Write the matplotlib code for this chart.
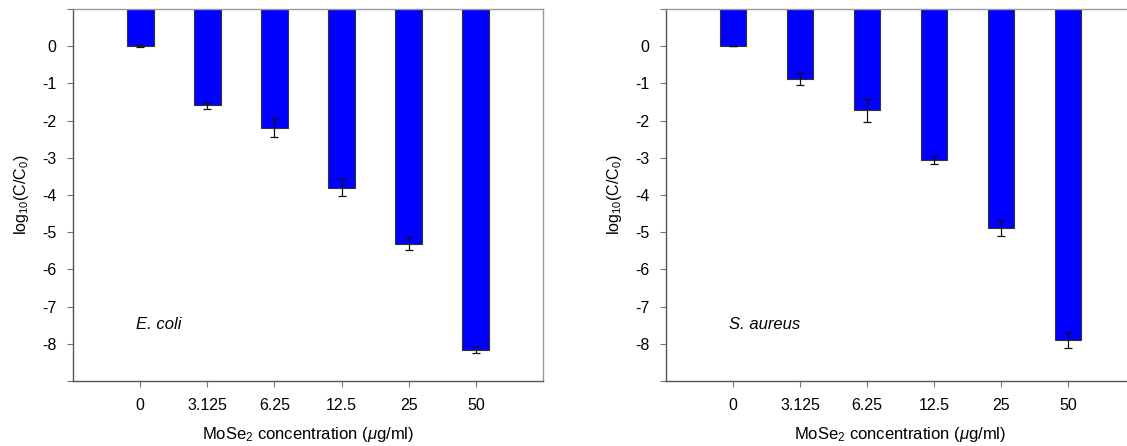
import numpy as np
import matplotlib as mpl
mpl.use("Agg")
import matplotlib.pyplot as plt

plt.rcParams["font.family"] = ["Liberation Sans", "DejaVu Sans"]
plt.rcParams["mathtext.fontset"] = "custom"
plt.rcParams["mathtext.rm"] = "Liberation Sans"
plt.rcParams["mathtext.it"] = "Liberation Sans:italic"

# data
conc_labels = ["0", "3.125", "6.25", "12.5", "25", "50"]
ecoli_vals = [0.0, -1.59, -2.19, -3.80, -5.31, -8.17]
ecoli_err = [0.02, 0.10, 0.25, 0.24, 0.18, 0.09]
saureus_vals = [0.0, -0.88, -1.72, -3.05, -4.88, -7.90]
saureus_err = [0.0, 0.15, 0.31, 0.11, 0.21, 0.21]
species = ["E. coli", "S. aureus"]

W, H = 1127, 446
fig = plt.figure(figsize=(W / 100, H / 100), dpi=100)

# axes boxes in pixels: left, top, right, bottom
# (the right panel runs past the edge of the image, as in the original)
boxes = [(73, 9, 543, 381), (666, 9, 1135, 381)]

for i, ((l, t, r, b), vals, errs, name) in enumerate(zip(
    boxes, [ecoli_vals, saureus_vals], [ecoli_err, saureus_err], species
)):
    ax = fig.add_axes([l / W, 1 - b / H, (r - l) / W, (b - t) / H])
    x = np.arange(len(conc_labels))
    top = 1.0
    vals = np.array(vals)
    # bars hang down from the top of the plot
    ax.bar(x, vals - top, bottom=top, width=0.4, color="#0000ff",
           edgecolor="#333333", linewidth=0.8, zorder=2)
    ax.errorbar(x, vals, yerr=errs, fmt="none", ecolor="#111111",
                elinewidth=0.9, capsize=3, capthick=0.9, zorder=3)

    ax.set_xlim(-1, 6)
    ax.set_ylim(-9, top)
    ax.set_xticks(x)
    ax.set_xticklabels(conc_labels)
    ax.set_yticks(np.arange(-9, 2))
    ax.set_yticklabels(["" if v in (-9, 1) else str(v) for v in range(-9, 2)])

    for side in ["left", "bottom"]:
        ax.spines[side].set_color("#555555")
        ax.spines[side].set_linewidth(1.0)
    for side in ["top", "right"]:
        ax.spines[side].set_color("#999999")
        ax.spines[side].set_linewidth(1.0)
    if i == 1:
        ax.spines["right"].set_visible(False)
    ax.tick_params(direction="out", length=4, width=0.8, color="#777777",
                   labelsize=11.5, pad=8)

    ax.set_xlabel("MoSe$_2$ concentration ($\\mu$g/ml)", fontsize=12, labelpad=9)
    ax.set_ylabel("log$_{10}$(C/C$_0$)", fontsize=11.5, labelpad=8)
    ax.text(-0.06, -7.47, name, style="italic", fontsize=12,
            ha="left", va="center")

fig.savefig("out.png", dpi=100)
